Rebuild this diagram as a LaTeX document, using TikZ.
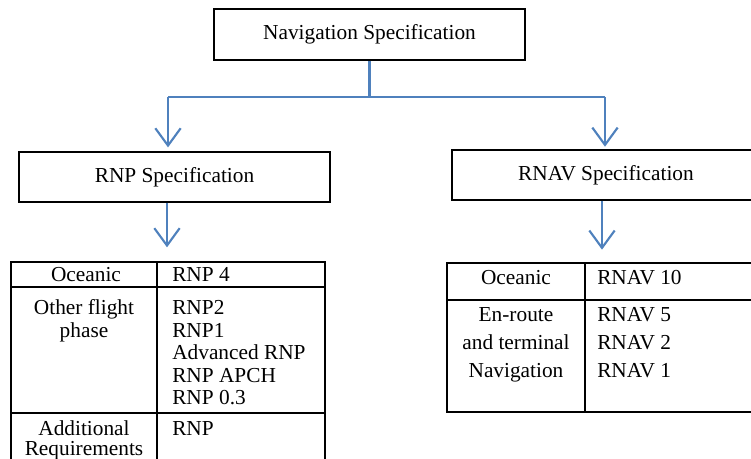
\documentclass[tikz,border=0pt]{standalone}
\usepackage{fontspec}
\setmainfont{Liberation Serif}
\usetikzlibrary{arrows.meta,positioning}
\definecolor{linkblue}{RGB}{79,129,189}

\begin{document}
\begin{tikzpicture}[x=0.75pt,y=-0.75pt,font=\fontsize{16}{20}\selectfont,
		spec/.style={draw,line width=0.9pt,inner sep=0pt,minimum height=50*0.75pt},
		trunk/.style={draw=linkblue,line width=1.6pt},
		link/.style={trunk,-{Straight Barb[length=13pt,width=19pt]}},
		grid/.style={line width=1.5pt},
		cell/.style={inner sep=0pt,anchor=base},
		item/.style={inner sep=0pt,anchor=base west}]
		\useasboundingbox (0,0) rectangle (751,459);
		\clip (0,0) rectangle (751,459);

		\node[spec,minimum width=311*0.75pt,minimum height=51*0.75pt] (nav) at (369.5,34.5) {Navigation Specification};
		\node[spec,minimum width=311*0.75pt] (rnp) at (174.5,177) {RNP Specification};
		\node[spec,minimum width=308*0.75pt] (rnav) at (606,175) {RNAV Specification};

		\coordinate (fork) at (369.5,97);
		\coordinate (forkL) at (168,97);
		\coordinate (forkR) at (605,97);
		\coordinate (rnptab) at (167,262);
		\coordinate (rnavtab) at (602,263);

		\draw[trunk] (nav) -- (fork);
		\draw[trunk] (forkL) -- (forkR);
		\draw[link,shorten >=3pt] (forkL) -- (forkL |- rnp.north);
		\draw[link,shorten >=2pt] (forkR) -- (forkR |- rnav.north);
		\draw[link,shorten >=11pt] (rnptab |- rnp.south) -- (rnptab);
		\draw[link,shorten >=10pt] (rnavtab |- rnav.south) -- (rnavtab);

		% RNP table
		\draw[grid] (11,470) -- (11,262) -- (325,262) -- (325,470);
		\draw[grid] (157,262) -- (157,470);
		\draw[grid] (11,287) -- (325,287);
		\draw[grid] (11,413) -- (325,413);
		\node[cell] (oc1) at (86,282) {Oceanic};
		\node[cell] (ofp1) at (84,315) {Other flight};
		\node[cell] (ofp2) at (84,337.5) {phase};
		\node[cell] (add1) at (84,436) {Additional};
		\node[cell] (add2) at (84,456) {Requirements};
		\node[item] (rnp4) at (172,282) {RNP 4};
		\node[item] (rnp2) at (172,315) {RNP2};
		\node[item] (rnp1) at (172,337.5) {RNP1};
		\node[item] (arnp) at (172,360) {Advanced RNP};
		\node[item] (apch) at (172,382.5) {RNP APCH};
		\node[item] (rnp03) at (172,405) {RNP 0.3};
		\node[item] (rnpx) at (172,436) {RNP};

		% RNAV table
		\draw[grid] (447,263) rectangle (760,412);
		\draw[grid] (585,263) -- (585,412);
		\draw[grid] (447,300) -- (760,300);
		\node[cell] (oc2) at (516,285) {Oceanic};
		\node[cell] (er1) at (516,322) {En-route};
		\node[cell] (er2) at (516,350) {and terminal};
		\node[cell] (er3) at (516,378) {Navigation};
		\node[item] (rnav10) at (597,285) {RNAV 10};
		\node[item] (rnav5) at (597,322) {RNAV 5};
		\node[item] (rnav2) at (597,350) {RNAV 2};
		\node[item] (rnav1) at (597,378) {RNAV 1};
	\end{tikzpicture}
\end{document}
